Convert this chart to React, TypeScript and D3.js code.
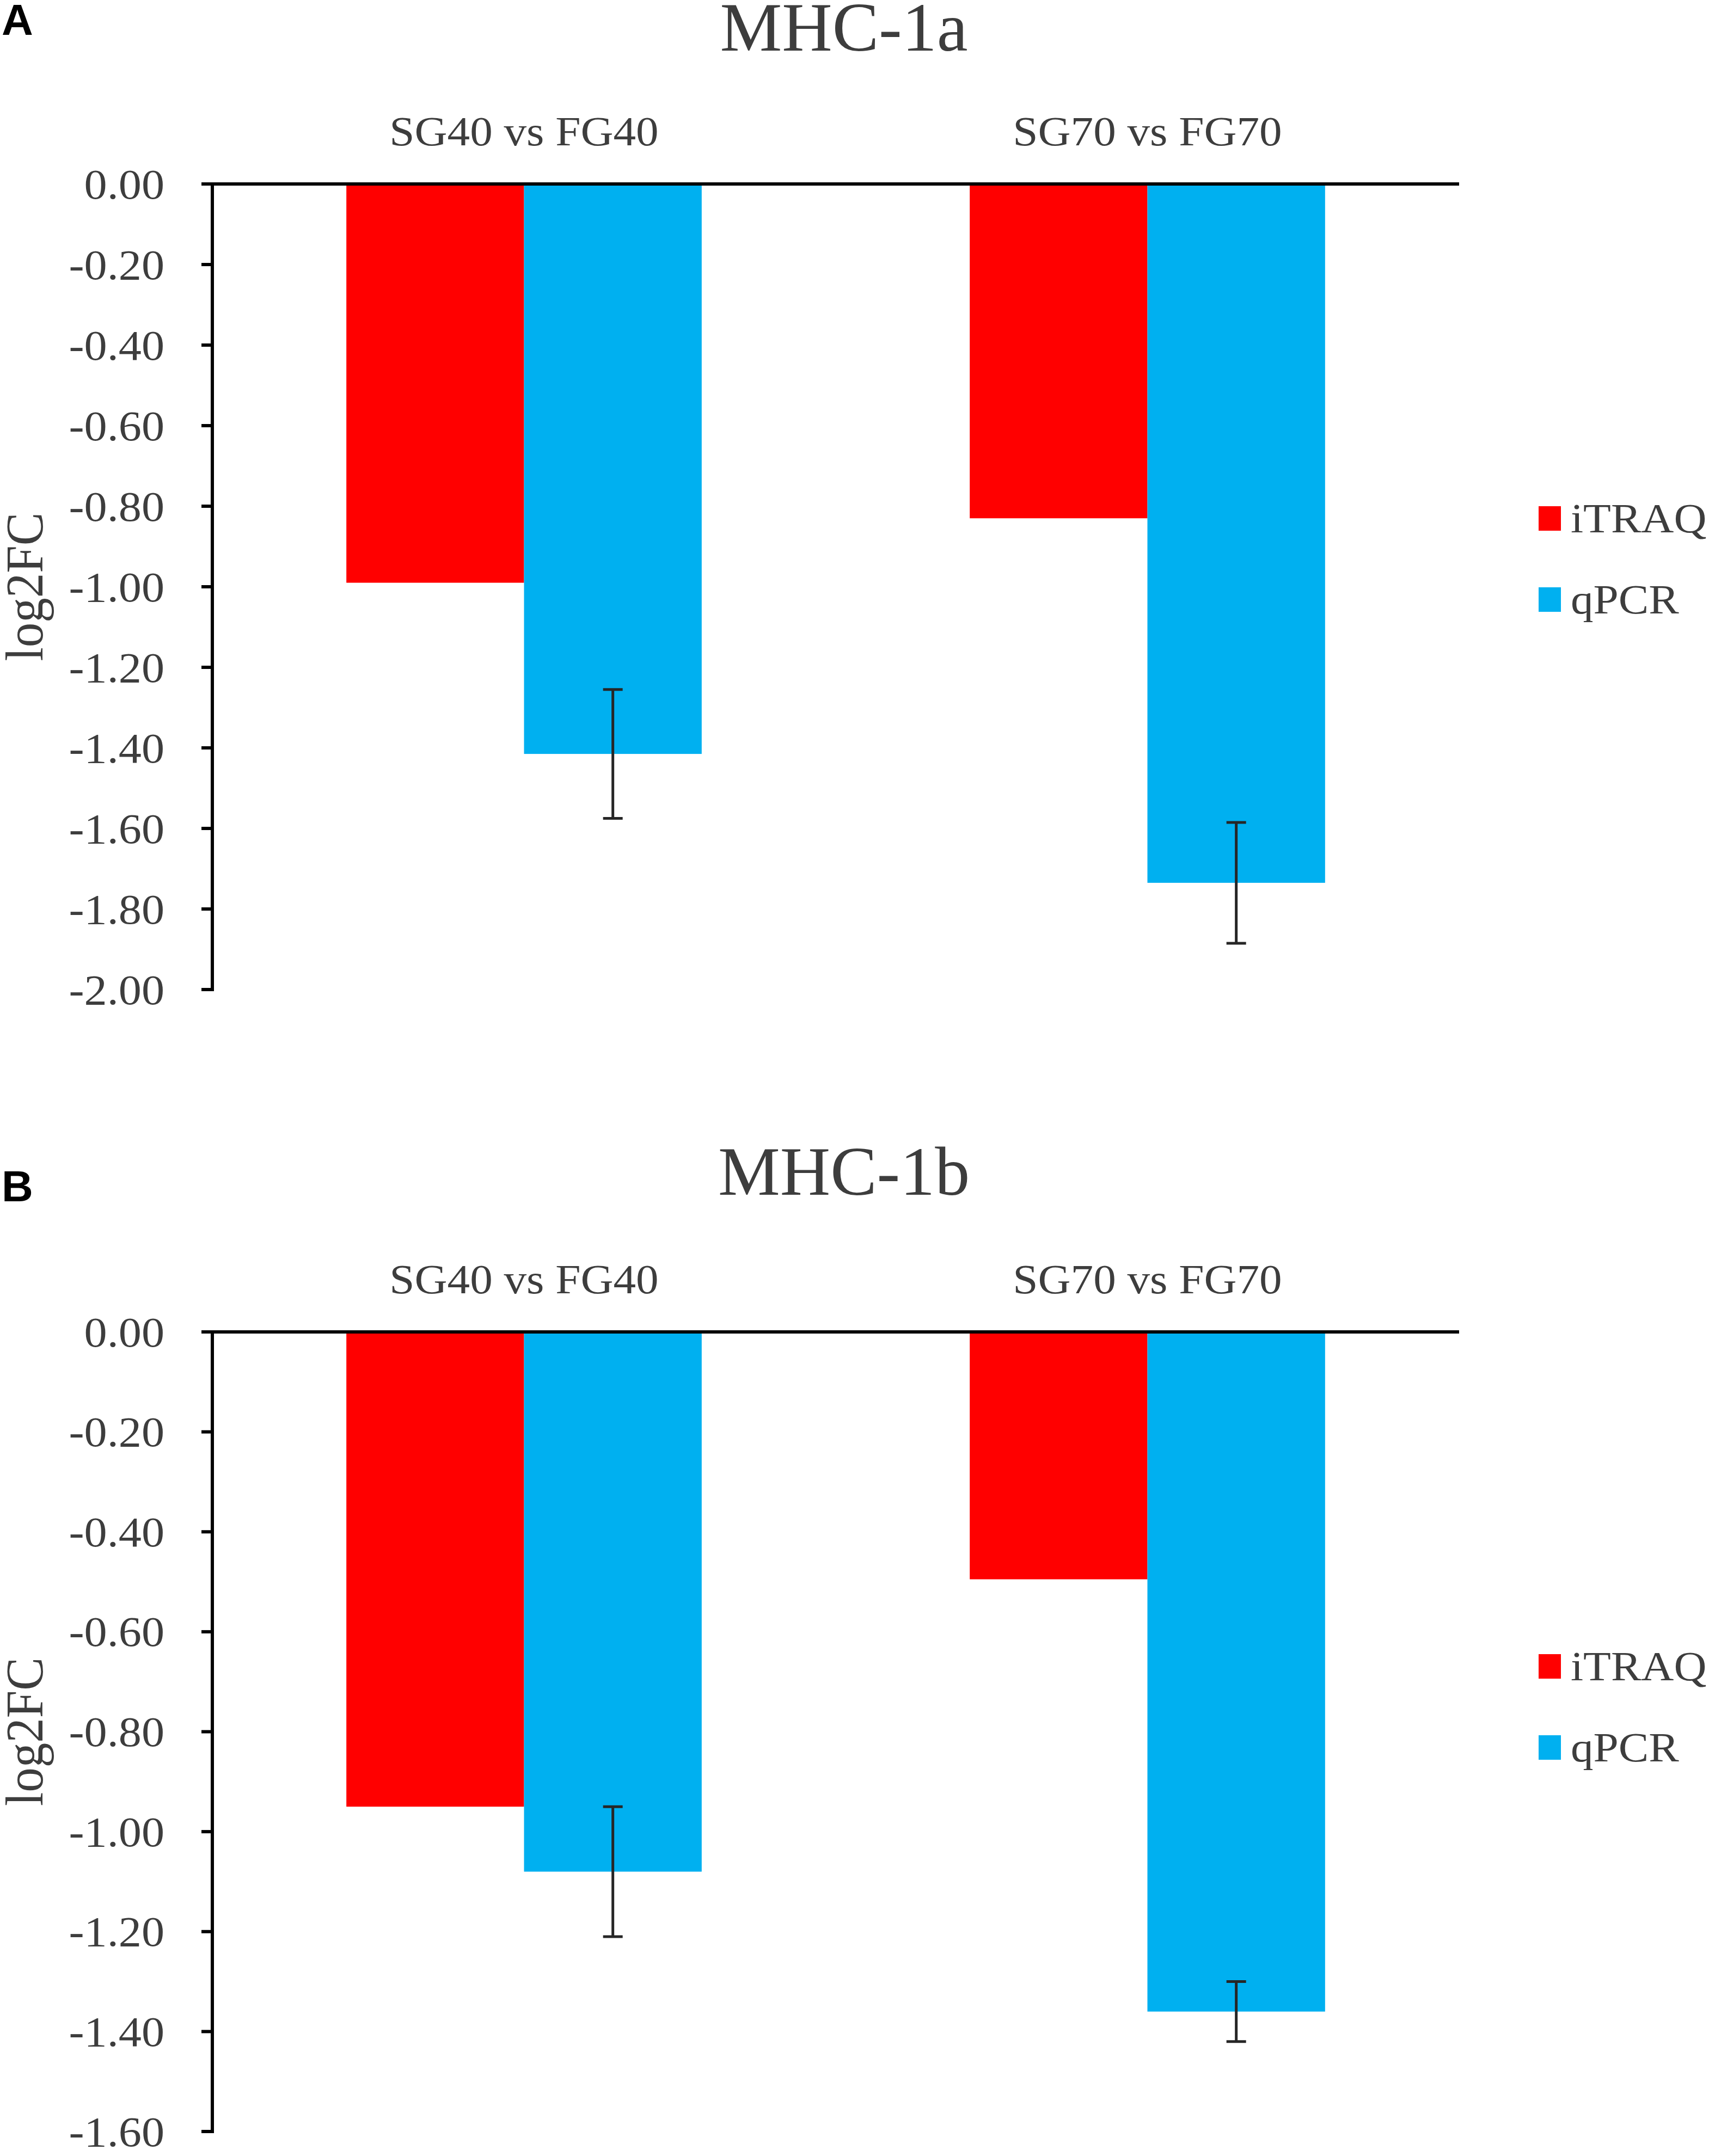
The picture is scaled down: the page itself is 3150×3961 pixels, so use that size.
// @ts-nocheck
import React from "react";
import * as d3 from "d3";

// categories and series
const categories = ["SG40 vs FG40", "SG70 vs FG70"];
const seriesNames = ["iTRAQ", "qPCR"];
const seriesColors = ["#ff0000", "#00b0f0"];

// MHC-1a (panel A)
const mhc1aItraq = [-0.99, -0.83];
const mhc1aQpcr = [-1.415, -1.735];
const mhc1aQpcrErr = [0.16, 0.15];
const mhc1aTicks = [0, -0.2, -0.4, -0.6, -0.8, -1.0, -1.2, -1.4, -1.6, -1.8, -2.0];

// MHC-1b (panel B)
const mhc1bItraq = [-0.95, -0.495];
const mhc1bQpcr = [-1.08, -1.36];
const mhc1bQpcrErr = [0.13, 0.06];
const mhc1bTicks = [0, -0.2, -0.4, -0.6, -0.8, -1.0, -1.2, -1.4, -1.6];

const W = 3150;
const H = 3961;
const serif = "'Liberation Serif', 'Times New Roman', serif";
const textColor = "#3d3d3d";
const stretch = 1.08; // the source glyphs are a little wider than Times

const panels = [
  {
    letter: "A", title: "MHC-1a", itraq: mhc1aItraq, qpcr: mhc1aQpcr, err: mhc1aQpcrErr, ticks: mhc1aTicks,
    letterY: 64, titleY: 93, zeroY: 338, bottomY: 1818,
  },
  {
    letter: "B", title: "MHC-1b", itraq: mhc1bItraq, qpcr: mhc1bQpcr, err: mhc1bQpcrErr, ticks: mhc1bTicks,
    letterY: 2207, titleY: 2195, zeroY: 2447, bottomY: 3916,
  },
];

const axisX = 390;
const rightX = 2680;
const tickLen = 20;

function Panel({ p }) {
  const minTick = d3.min(p.ticks);
  const y = d3.scaleLinear().domain([minTick, 0]).range([p.bottomY, p.zeroY]);

  const x0 = d3.scaleBand().domain(categories).range([axisX, rightX]).paddingInner(0.43).paddingOuter(0.215);
  const x1 = d3.scaleBand().domain(seriesNames).range([0, x0.bandwidth()]);

  const values = [p.itraq, p.qpcr];
  const fmt = (v) => v.toFixed(2).replace("-0.00", "0.00");

  return (
    <g>
      {/* panel letter */}
      <text
        x={3}
        y={p.letterY}
        fontFamily="'Liberation Sans', Arial, sans-serif"
        fontWeight="bold"
        fontSize={80}
        fill="#000"
      >
        {p.letter}
      </text>

      {/* title */}
      <text x={1550} y={p.titleY} textAnchor="middle" fontFamily={serif} fontSize={128} fill={textColor}>
        {p.title}
      </text>

      {/* bars */}
      {categories.map((c, ci) =>
        seriesNames.map((s, si) => {
          const v = values[si][ci];
          return (
            <rect
              key={c + s}
              x={x0(c) + x1(s)}
              y={y(0)}
              width={x1.bandwidth()}
              height={y(v) - y(0)}
              fill={seriesColors[si]}
            />
          );
        })
      )}

      {/* qPCR error bars */}
      {categories.map((c, ci) => {
        const cx = x0(c) + x1("qPCR") + x1.bandwidth() / 2;
        const v = p.qpcr[ci];
        const e = p.err[ci];
        return (
          <g key={"err" + c} stroke="#262626" strokeWidth={5}>
            <line x1={cx} x2={cx} y1={y(v + e)} y2={y(v - e)} />
            <line x1={cx - 18} x2={cx + 18} y1={y(v + e)} y2={y(v + e)} />
            <line x1={cx - 18} x2={cx + 18} y1={y(v - e)} y2={y(v - e)} />
          </g>
        );
      })}

      {/* zero line */}
      <line x1={axisX - tickLen} x2={rightX} y1={y(0)} y2={y(0)} stroke="#000" strokeWidth={6} />

      {/* y axis */}
      <line x1={axisX} x2={axisX} y1={y(0) - 3} y2={y(minTick) + 3} stroke="#000" strokeWidth={6} />
      {p.ticks.map((t) => (
        <g key={"t" + t}>
          <line x1={axisX - tickLen} x2={axisX} y1={y(t)} y2={y(t)} stroke="#000" strokeWidth={6} />
          <text
            transform={`translate(302, ${y(t)}) scale(${stretch},1)`}
            dy="0.34em"
            textAnchor="end"
            fontFamily={serif}
            fontSize={78}
            fill={textColor}
          >
            {fmt(t)}
          </text>
        </g>
      ))}

      {/* y label */}
      <text
        transform={`translate(78, ${(y(0) + y(minTick)) / 2}) rotate(-90) scale(1,${stretch})`}
        textAnchor="middle"
        fontFamily={serif}
        fontSize={91}
        fill={textColor}
      >
        log2FC
      </text>

      {/* category labels */}
      {categories.map((c) => (
        <text
          key={"c" + c}
          transform={`translate(${x0(c) + x0.bandwidth() / 2}, ${y(0) - 71}) scale(${stretch},1)`}
          textAnchor="middle"
          fontFamily={serif}
          fontSize={77}
          fill={textColor}
        >
          {c}
        </text>
      ))}

      {/* legend */}
      {seriesNames.map((s, i) => {
        const ly = y(0) + 592 + i * 149;
        return (
          <g key={"l" + s}>
            <rect x={2826} y={ly} width={41} height={45} fill={seriesColors[i]} />
            <text
              transform={`translate(2885, ${ly + 48}) scale(${stretch},1)`}
              fontFamily={serif}
              fontSize={77}
              fill={textColor}
            >
              {s}
            </text>
          </g>
        );
      })}
    </g>
  );
}

export default function App() {
  return (
    <svg
      width={W}
      height={H}
      viewBox={`0 0 ${W} ${H}`}
      style={{ position: "absolute", left: 0, top: 0, display: "block" }}
    >
      <rect width={W} height={H} fill="#fff" />
      {panels.map((p) => (
        <Panel key={p.letter} p={p} />
      ))}
    </svg>
  );
}
